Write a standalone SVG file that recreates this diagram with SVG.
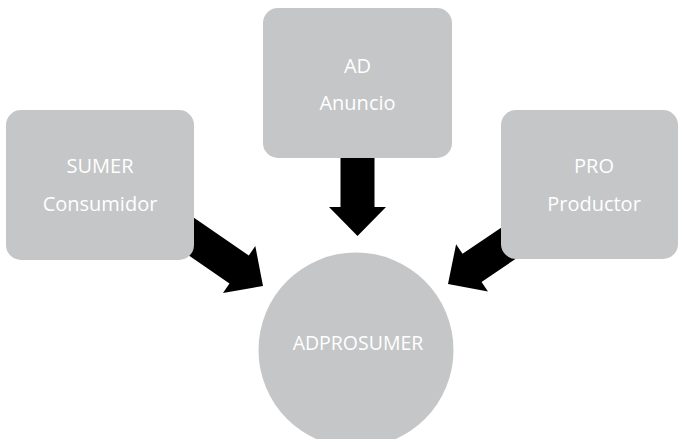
<svg xmlns="http://www.w3.org/2000/svg" width="680" height="439" viewBox="0 0 680 439">
  <style>
    .node { fill: #c5c6c8; }
    .label { font-family: "Open Sans", "Liberation Sans", sans-serif; font-size: 20px; fill: #ffffff; text-anchor: middle; }
    .arrow { fill: #000000; }
  </style>
  <defs>
    <path id="arrowShape" d="M0,0 L-29,-28.5 L-29,-17 L-100,-17 L-100,17 L-29,17 L-29,28.5 Z"/>
  </defs>
  <rect width="680" height="439" fill="#ffffff"/>
  <g id="connectors">
    <use href="#arrowShape" class="arrow" transform="translate(357.5,236) rotate(90)"/>
    <use href="#arrowShape" class="arrow" transform="translate(263,286) rotate(34.6)"/>
    <use href="#arrowShape" class="arrow" transform="translate(448,284) rotate(146)"/>
  </g>
  <g id="node-sumer">
    <rect class="node" x="6" y="110" width="188" height="150" rx="15"/>
    <text class="label" x="100" y="173">SUMER</text>
    <text class="label" x="100" y="211">Consumidor</text>
  </g>
  <g id="node-ad">
    <rect class="node" x="263" y="8" width="189" height="150" rx="15"/>
    <text class="label" x="357.5" y="73">AD</text>
    <text class="label" x="357.5" y="110">Anuncio</text>
  </g>
  <g id="node-pro">
    <rect class="node" x="501" y="110" width="177" height="149" rx="15"/>
    <text class="label" x="594" y="173">PRO</text>
    <text class="label" x="594" y="211">Productor</text>
  </g>
  <g id="node-adprosumer">
    <circle class="node" cx="356" cy="350" r="97.5"/>
    <text class="label" x="358" y="350" style="font-size:19.5px">ADPROSUMER</text>
  </g>
</svg>
